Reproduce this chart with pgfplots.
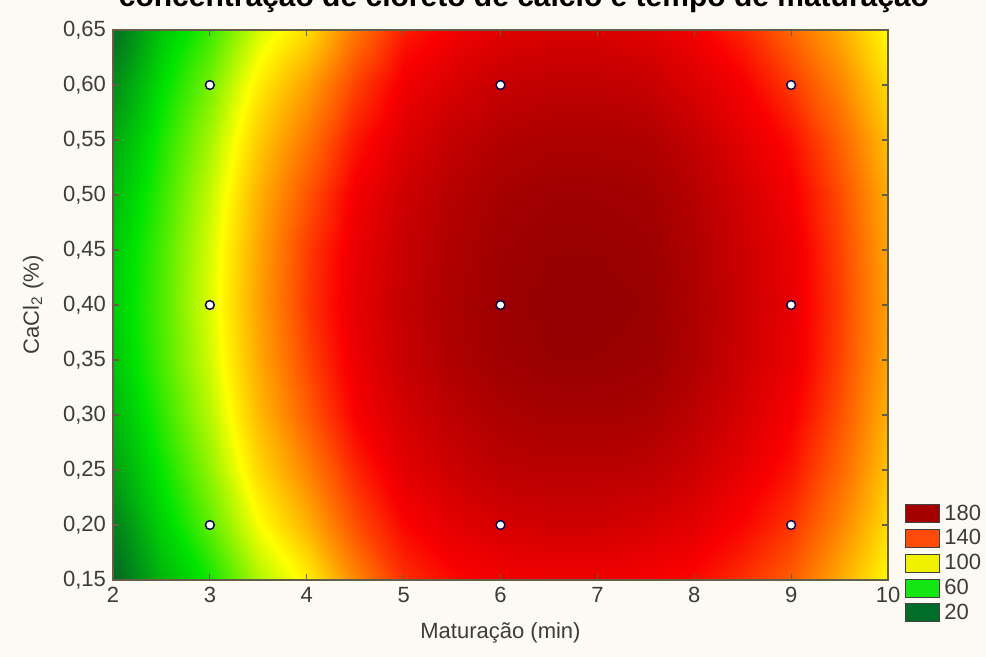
\documentclass[border=0pt]{standalone}
\usepackage{fontspec}
\setmainfont{Liberation Sans}
\usepackage{pgfplots}
\pgfplotsset{compat=1.18}
\definecolor{bgc}{RGB}{252,250,242}
\definecolor{framec}{RGB}{100,95,70}
\definecolor{txtc}{RGB}{60,60,60}
\definecolor{c180}{RGB}{165,0,0}
\definecolor{c140}{RGB}{255,75,10}
\definecolor{c100}{RGB}{240,240,0}
\definecolor{c60}{RGB}{20,230,20}
\definecolor{c20}{RGB}{0,110,40}
\begin{document}
\begin{tikzpicture}
\useasboundingbox (-56.5pt,-38.5pt) rectangle (436.5pt,290pt);
\fill[bgc] (-56.5pt,-38.5pt) rectangle (436.5pt,290pt);
\node[anchor=base, font=\bfseries\fontsize{15}{17}\selectfont] at (205.5pt,286.5pt) {concentração de cloreto de cálcio e tempo de maturação};
\begin{axis}[
  at={(0pt,0pt)}, anchor=south west,
  scale only axis, width=387.5pt, height=275pt,
  xmin=2, xmax=10, ymin=0.15, ymax=0.65,
  xtick={2,3,4,5,6,7,8,9,10},
  ytick={0.15,0.20,0.25,0.30,0.35,0.40,0.45,0.50,0.55,0.60,0.65},
  tick align=inside, major tick length=3pt,
  tick style={draw=framec, line width=0.6pt},
  axis line style={draw=framec, line width=0.8pt},
  axis on top,
  tick label style={font=\fontsize{11}{12}\selectfont, text=txtc},
  label style={font=\fontsize{11}{12}\selectfont, text=txtc},
  /pgf/number format/assume math mode=true,
  yticklabel style={/pgf/number format/.cd, use comma, fixed, fixed zerofill, precision=2},
  xticklabel style={/pgf/number format/.cd, use comma},
  xlabel={Maturação (min)},
  ylabel={CaCl\textsubscript{2} (\%)},
  xlabel style={yshift=-3pt},
  ylabel style={yshift=3pt},
  colormap={statmap}{rgb255(20pt)=(0,100,35); rgb255(60pt)=(0,228,0); rgb255(100pt)=(255,255,0); rgb255(140pt)=(255,85,0); rgb255(158pt)=(250,0,0); rgb255(192pt)=(140,0,0)},
  point meta min=20, point meta max=192,
  legend image code/.code={\draw[#1, draw=black!75, line width=0.5pt] (0pt,-4.5pt) rectangle (17pt,4.5pt);},
  legend style={at={(1.022,0.145)}, anchor=north west, draw=none, fill=none,
    font=\fontsize{11}{12}\selectfont, text=txtc, row sep=-0.8pt, inner sep=0pt,
    /tikz/every even column/.style={column sep=6pt}},
  legend cell align=left,
]
\addplot[surf, shader=interp, mesh/cols=17, point meta=\thisrow{z}, forget plot] table {
x y z
2 0.15 16
2.5 0.15 45
3 0.15 63
3.5 0.15 87
4 0.15 103
4.5 0.15 128
5 0.15 148
5.5 0.15 156
6 0.15 160
6.5 0.15 161
7 0.15 161
7.5 0.15 159
8 0.15 156
8.5 0.15 148
9 0.15 138
9.5 0.15 120
10 0.15 100
2 0.20 28
2.5 0.20 54
3 0.20 75
3.5 0.20 99
4 0.20 118
4.5 0.20 141
5 0.20 157
5.5 0.20 165
6 0.20 169
6.5 0.20 171
7 0.20 171
7.5 0.20 169
8 0.20 165
8.5 0.20 157
9 0.20 147
9.5 0.20 129
10 0.20 108
2 0.25 38
2.5 0.25 61
3 0.25 83
3.5 0.25 109
4 0.25 129
4.5 0.25 150
5 0.25 165
5.5 0.25 172
6 0.25 177
6.5 0.25 178
7 0.25 178
7.5 0.25 177
8 0.25 172
8.5 0.25 164
9 0.25 154
9.5 0.25 136
10 0.25 114
2 0.30 45
2.5 0.30 67
3 0.30 89
3.5 0.30 116
4 0.30 138
4.5 0.30 158
5 0.30 170
5.5 0.30 177
6 0.30 182
6.5 0.30 184
7 0.30 184
7.5 0.30 183
8 0.30 177
8.5 0.30 169
9 0.30 159
9.5 0.30 141
10 0.30 118
2 0.35 50
2.5 0.35 71
3 0.35 93
3.5 0.35 120
4 0.35 143
4.5 0.35 162
5 0.35 174
5.5 0.35 181
6 0.35 186
6.5 0.35 188
7 0.35 188
7.5 0.35 187
8 0.35 181
8.5 0.35 172
9 0.35 163
9.5 0.35 144
10 0.35 121
2 0.40 52
2.5 0.40 72
3 0.40 95
3.5 0.40 122
4 0.40 146
4.5 0.40 164
5 0.40 175
5.5 0.40 182
6 0.40 187
6.5 0.40 189
7 0.40 189
7.5 0.40 188
8 0.40 182
8.5 0.40 173
9 0.40 164
9.5 0.40 145
10 0.40 122
2 0.45 51
2.5 0.45 71
3 0.45 94
3.5 0.45 121
4 0.45 145
4.5 0.45 163
5 0.45 174
5.5 0.45 181
6 0.45 186
6.5 0.45 188
7 0.45 188
7.5 0.45 187
8 0.45 181
8.5 0.45 172
9 0.45 163
9.5 0.45 144
10 0.45 121
2 0.50 47
2.5 0.50 68
3 0.50 91
3.5 0.50 118
4 0.50 140
4.5 0.50 160
5 0.50 172
5.5 0.50 179
6 0.50 184
6.5 0.50 186
7 0.50 186
7.5 0.50 185
8 0.50 179
8.5 0.50 170
9 0.50 160
9.5 0.50 142
10 0.50 119
2 0.55 41
2.5 0.55 64
3 0.55 86
3.5 0.55 112
4 0.55 132
4.5 0.55 153
5 0.55 167
5.5 0.55 175
6 0.55 180
6.5 0.55 182
7 0.55 182
7.5 0.55 181
8 0.55 175
8.5 0.55 165
9 0.55 155
9.5 0.55 137
10 0.55 115
2 0.60 32
2.5 0.60 58
3 0.60 79
3.5 0.60 104
4 0.60 122
4.5 0.60 144
5 0.60 161
5.5 0.60 168
6 0.60 174
6.5 0.60 176
7 0.60 176
7.5 0.60 174
8 0.60 168
8.5 0.60 159
9 0.60 146
9.5 0.60 129
10 0.60 108
2 0.65 22
2.5 0.65 50
3 0.65 69
3.5 0.65 93
4 0.65 108
4.5 0.65 132
5 0.65 152
5.5 0.65 160
6 0.65 166
6.5 0.65 168
7 0.65 168
7.5 0.65 166
8 0.65 160
8.5 0.65 150
9 0.65 136
9.5 0.65 120
10 0.65 100
};
\addplot[only marks, mark=*, mark size=2.2pt, mark options={fill=white, draw=black!70!blue, line width=0.7pt}, forget plot] coordinates {
(3,0.2) (3,0.4) (3,0.6) (6,0.2) (6,0.4) (6,0.6) (9,0.2) (9,0.4) (9,0.6)};
\addlegendimage{fill=c180}\addlegendentry{180}
\addlegendimage{fill=c140}\addlegendentry{140}
\addlegendimage{fill=c100}\addlegendentry{100}
\addlegendimage{fill=c60}\addlegendentry{60}
\addlegendimage{fill=c20}\addlegendentry{20}
\end{axis}
\end{tikzpicture}
\end{document}
